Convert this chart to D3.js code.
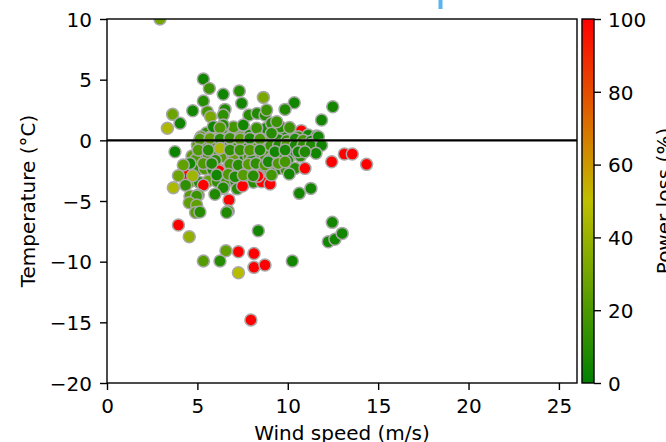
<!DOCTYPE html>
<html><head><meta charset="utf-8">
<script src="https://cdn.jsdelivr.net/npm/d3@7"></script>
<style>
body{margin:0;background:#fff}
svg{display:block;font-family:"DejaVu Sans",sans-serif}
</style>
</head><body>
<svg id="chart" width="666" height="442"></svg>
<script>
// ---- tick labels ----
const xTicks = [0, 5, 10, 15, 20, 25];
const yTicks = [-20, -15, -10, -5, 0, 5, 10];
const cTicks = [0, 20, 40, 60, 80, 100];
const xLabel = "Wind speed (m/s)";
const yLabel = "Temperature (°C)";
const cLabel = "Power loss (%)";

// ---- data: [wind speed (m/s), temperature (°C), power loss (%)] ----
const buriedRed = [
  [10.75,0.8,100]
];
const clusterFill = [
  [5.5,0.6,12],[6.0,0.65,8],[6.6,0.55,20],[7.1,0.7,5],[7.7,0.6,15],[8.2,0.55,10],[8.7,0.7,22],[9.6,0.6,6],[10.1,0.7,12],
  [5.2,0.3,20],[5.7,0.25,6],[6.25,0.3,14],[6.8,0.25,9],[7.36,0.3,24],[7.9,0.44,5],[8.46,0.16,18],[9.0,0.35,10],[9.75,0.3,7],[10.58,0.3,15],[11.13,0.44,5],[11.6,0.35,9],
  [5.14,0.02,25],[5.45,-0.1,10],[5.9,0.05,18],[6.35,-0.05,7],[6.8,0.1,22],[7.25,0.0,12],[7.7,-0.05,5],[8.15,0.08,16],[8.6,0.0,9],[9.05,-0.05,20],[9.5,0.05,6],[9.95,-0.02,14],[10.4,0.1,8],[10.85,0.0,18],[11.3,-0.05,5],
  [5.0,-0.4,22],[5.45,-0.45,8],[5.9,-0.35,15],[6.35,-0.45,26],[6.8,-0.4,6],[7.25,-0.35,18],[7.7,-0.45,10],[8.15,-0.4,24],[8.6,-0.35,5],[9.05,-0.45,15],[9.5,-0.4,9],[9.95,-0.35,20],[10.4,-0.45,6],[10.85,-0.4,12],[11.3,-0.35,8],
  [4.7,-1.3,24],[5.15,-1.35,10],[5.6,-1.25,18],[6.05,-1.3,6],[6.5,-1.35,22],[6.95,-1.25,12],[7.4,-1.3,5],[7.85,-1.35,20],[8.3,-1.25,9],[8.75,-1.3,16],[9.2,-1.35,6],[9.65,-1.25,14],[10.2,-1.21,5],[10.7,-1.3,10],
  [4.9,-1.6,20],[6.0,-1.65,10],[7.0,-1.6,25],[8.0,-1.65,7],[9.0,-1.6,18],[10.0,-1.65,6],
  [4.5,-2.4,26],[4.95,-2.45,12],[5.4,-2.35,20],[5.85,-2.4,7],[6.3,-2.45,16],[6.75,-2.35,24],[7.2,-2.4,8],[7.65,-2.45,14],[8.1,-2.35,5],[8.55,-2.4,20],[9.0,-2.45,10],[9.45,-2.35,6],[9.9,-2.4,15],
  [4.6,-3.4,22],[5.1,-3.45,8],[5.6,-3.35,26],[6.1,-3.4,12],[6.6,-3.45,18],[7.1,-3.35,6],[7.6,-3.4,20],[8.1,-3.45,10],[8.9,-3.35,14],
  [6.4,1.0,8],[7.0,1.1,18],[8.8,1.0,6],[9.6,1.1,10],[10.1,1.05,15],[7.2,-4.0,10]
];
const clusterRed = [
  [5.33,-3.69,100],[6.43,-3.96,100],[7.5,-3.77,100],[8.56,-3.41,100],[6.75,-4.92,100],
  [9.02,-3.6,100],[7.72,-2.04,100],[4.41,-2.86,100],[6.2,-2.5,100],[8.35,-2.95,100]
];
const upperPoints = [
  [2.93,10.0,30],[5.33,5.05,5],[5.66,4.28,15],[6.43,3.79,4],[7.32,4.06,10],[7.45,3.05,5],[8.65,3.54,32],
  [5.33,3.24,10],[4.74,2.44,5],[3.63,2.14,28],[4.04,1.4,4],[3.34,0.99,45],[5.55,2.36,18],[5.73,1.95,32],
  [6.53,2.55,8],[6.43,2.08,12],[7.85,2.08,10],[8.31,2.22,8],[8.74,2.08,10],[8.83,2.5,15],[5.88,1.12,5],
  [6.43,1.26,10],[7.54,1.26,5],[8.28,0.99,15],[6.25,1.04,20],[10.36,3.1,5],[9.85,2.55,8],[12.49,2.77,5],
  [11.87,1.67,5],[9.1,1.4,10],[9.39,1.53,15]
];
const nearZero = [
  [5.14,0.1,20],[5.7,0.15,25],[6.25,0.12,10],[6.8,0.18,15],[7.36,0.1,22],[7.9,0.15,8],[8.46,0.1,18],
  [9.1,0.58,10],[11.69,0.3,5],[11.87,-0.41,4],[11.56,-1.07,5]
];
const belowZero = [
  [3.76,-0.94,3],[5.05,-0.8,20],[5.6,-0.8,10],[6.25,-0.66,45],[6.8,-0.8,12],[7.36,-0.8,15],[7.9,-0.8,20],
  [8.46,-0.8,8],[9.29,-0.94,5],[9.85,-0.8,6],[10.58,-0.94,5],[10.95,-0.94,8],
  [4.59,-1.9,5],[4.22,-2.04,25],[5.33,-1.9,20],[5.79,-1.9,8],[6.8,-1.98,18],[7.26,-2.04,10],[7.82,-1.98,22],
  [8.24,-1.9,12],[8.74,-2.04,20],[8.92,-1.76,6],[9.47,-1.9,20],[9.85,-1.76,18],[10.4,-2.31,10],
  [3.95,-2.92,28],[4.74,-2.92,42],[6.07,-2.86,5],[6.71,-2.8,20],[7.08,-3.0,8],[7.54,-2.86,22],[8.09,-2.92,10],
  [9.1,-2.86,18],[10.08,-2.78,5],
  [4.35,-3.7,12],[3.67,-3.9,45],[6.43,-3.9,8],
  [5.05,-4.5,20],[5.97,-4.45,8],[4.59,-4.59,22],[4.96,-4.59,15],
  [4.55,-5.14,25],[4.96,-5.33,25],[4.9,-5.95,22],[5.14,-5.9,10],[6.71,-5.83,20],[6.62,-5.95,8]
];
const redOutliers = [
  [12.43,-1.76,100],[13.13,-1.13,100],[13.57,-1.13,100],[14.36,-1.98,100],[10.95,-2.31,100],
  [3.95,-6.98,100],[7.27,-9.18,100],[8.13,-9.32,100],[8.13,-10.47,100],[8.74,-10.28,100],[7.96,-14.8,100]
];
const otherOutliers = [
  [10.64,-4.37,5],[11.28,-3.96,5],[12.46,-6.76,5],[12.24,-8.36,5],[12.61,-8.16,5],[13.01,-7.67,5],
  [8.37,-7.45,5],[4.55,-7.95,38],[6.58,-9.1,25],[5.33,-9.95,22],[6.25,-9.95,10],[10.25,-9.95,5],[7.27,-10.91,48]
];

const points = [].concat(buriedRed, clusterFill, clusterRed, upperPoints, nearZero, belowZero, redOutliers, otherOutliers);

// ---- layout ----
const svg = d3.select("#chart");
const L = 107, R = 577, T = 19, B = 383;
const x = d3.scaleLinear().domain([0, 26]).range([L, R]);
const y = d3.scaleLinear().domain([-20, 10]).range([B, T]);
const color = d3.scaleLinear().domain([0, 50, 100]).range(["#008000", "#bfbf00", "#ff0000"]);
const cb = d3.scaleLinear().domain([0, 100]).range([B, T]);
const CBL = 582, CBW = 12;

const defs = svg.append("defs");
defs.append("clipPath").attr("id", "clip").append("rect")
  .attr("x", L).attr("y", T).attr("width", R - L).attr("height", B - T);
const grad = defs.append("linearGradient").attr("id", "cgrad")
  .attr("x1", 0).attr("y1", 1).attr("x2", 0).attr("y2", 0);
d3.range(0, 101, 10).forEach(v => grad.append("stop").attr("offset", v / 100).attr("stop-color", color(v)));

// blue mark at the top (from cropped element above)
svg.append("rect").attr("x", 438.5).attr("y", 0).attr("width", 4).attr("height", 9).attr("fill", "#5ab4ef");

// points
svg.append("g").attr("clip-path", "url(#clip)")
  .selectAll("circle").data(points).join("circle")
  .attr("cx", d => x(d[0])).attr("cy", d => y(d[1])).attr("r", 6)
  .attr("fill", d => color(d[2]))
  .attr("stroke", "#a9a9a9").attr("stroke-width", 1.5);

// zero line
svg.append("line").attr("x1", L).attr("x2", R).attr("y1", y(0)).attr("y2", y(0))
  .attr("stroke", "#000").attr("stroke-width", 2.3);

// axes
const fs = 20;
const xa = svg.append("g").attr("transform", `translate(0,${B})`)
  .call(d3.axisBottom(x).tickValues(xTicks).tickSize(7).tickSizeOuter(0).tickPadding(9));
const ya = svg.append("g").attr("transform", `translate(${L},0)`)
  .call(d3.axisLeft(y).tickValues(yTicks).tickSize(7).tickSizeOuter(0).tickPadding(8));
ya.selectAll("text").attr("dy", "0.36em");
const ca = svg.append("g").attr("transform", `translate(${CBL + CBW},0)`)
  .call(d3.axisRight(cb).tickValues(cTicks).tickSize(7).tickSizeOuter(0).tickPadding(7));
ca.selectAll("text").attr("dy", "0.36em");
[xa, ya, ca].forEach(a => {
  a.select(".domain").remove();
  a.selectAll("text").attr("font-size", fs).attr("font-family", "DejaVu Sans").attr("fill", "#000");
  a.selectAll("line").attr("stroke", "#000").attr("stroke-width", 1.4);
});

// frame
svg.append("rect").attr("x", L).attr("y", T).attr("width", R - L).attr("height", B - T)
  .attr("fill", "none").attr("stroke", "#000").attr("stroke-width", 1.4);

// colorbar
svg.append("rect").attr("x", CBL).attr("y", T).attr("width", CBW).attr("height", B - T)
  .attr("fill", "url(#cgrad)").attr("stroke", "#000").attr("stroke-width", 1.4);

// labels
svg.append("text").attr("x", (L + R) / 2).attr("y", 440).attr("text-anchor", "middle")
  .attr("font-size", fs).text(xLabel);
svg.append("text").attr("transform", `translate(35,${(T + B) / 2}) rotate(-90)`)
  .attr("text-anchor", "middle").attr("font-size", fs).text(yLabel);
svg.append("text").attr("transform", `translate(671,${(T + B) / 2}) rotate(-90)`)
  .attr("text-anchor", "middle").attr("font-size", fs).text(cLabel);
</script>
</body></html>
